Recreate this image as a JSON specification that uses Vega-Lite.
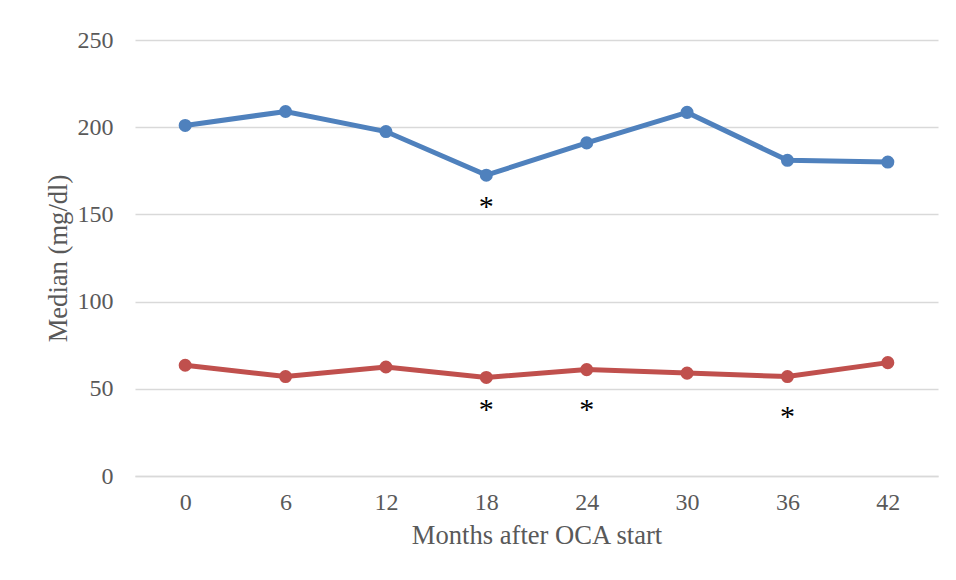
{
  "$schema": "https://vega.github.io/schema/vega-lite/v6.json",
  "autosize": {"type": "none"},
  "width": 803,
  "height": 436,
  "padding": {"left": 135, "top": 40, "right": 18, "bottom": 104},
  "background": "white",
  "datasets": {
    "series": [
      {"month": "0", "series": "Series 1", "value": 201},
      {"month": "6", "series": "Series 1", "value": 209},
      {"month": "12", "series": "Series 1", "value": 197.5},
      {"month": "18", "series": "Series 1", "value": 172.5},
      {"month": "24", "series": "Series 1", "value": 191},
      {"month": "30", "series": "Series 1", "value": 208.5},
      {"month": "36", "series": "Series 1", "value": 181},
      {"month": "42", "series": "Series 1", "value": 180},
      {"month": "0", "series": "Series 2", "value": 63.5},
      {"month": "6", "series": "Series 2", "value": 57},
      {"month": "12", "series": "Series 2", "value": 62.5},
      {"month": "18", "series": "Series 2", "value": 56.5},
      {"month": "24", "series": "Series 2", "value": 61},
      {"month": "30", "series": "Series 2", "value": 59},
      {"month": "36", "series": "Series 2", "value": 57},
      {"month": "42", "series": "Series 2", "value": 65}
    ],
    "marks": [
      {"month": "18", "value": 157, "label": "*"},
      {"month": "18", "value": 40.5, "label": "*"},
      {"month": "24", "value": 40.5, "label": "*"},
      {"month": "36", "value": 36.5, "label": "*"}
    ]
  },
  "layer": [
    {
      "data": {"name": "series"},
      "mark": {"type": "line", "strokeWidth": 5, "point": {"filled": true, "size": 170, "opacity": 1}},
      "encoding": {
        "x": {
          "field": "month", "type": "ordinal", "sort": ["0", "6", "12", "18", "24", "30", "36", "42"],
          "scale": {"type": "point", "padding": 0.5},
          "axis": {
            "title": "Months after OCA start", "titleFont": "Liberation Serif", "titleFontSize": 26.6,
            "titleFontWeight": "normal", "titleColor": "#595959", "titlePadding": 8,
            "labelFont": "Liberation Serif", "labelFontSize": 24, "labelColor": "#595959",
            "labelAngle": 0, "labelPadding": 14, "ticks": false, "domainColor": "#d9d9d9", "domainWidth": 1.5
          }
        },
        "y": {
          "field": "value", "type": "quantitative", "scale": {"domain": [0, 250], "nice": false},
          "axis": {
            "title": "Median (mg/dl)", "titleFont": "Liberation Serif", "titleFontSize": 26.6,
            "titleFontWeight": "normal", "titleColor": "#595959", "titlePadding": 5,
            "labelFont": "Liberation Serif", "labelFontSize": 24, "labelColor": "#595959",
            "labelPadding": 22, "ticks": false, "domain": false, "values": [0, 50, 100, 150, 200, 250],
            "gridColor": "#d9d9d9", "gridWidth": 1.5
          }
        },
        "color": {
          "field": "series", "type": "nominal",
          "scale": {"domain": ["Series 1", "Series 2"], "range": ["#4f81bd", "#c0504d"]},
          "legend": null
        }
      }
    },
    {
      "data": {"name": "marks"},
      "mark": {"type": "text", "font": "Liberation Serif", "fontSize": 30, "color": "black", "baseline": "middle", "dy": 5},
      "encoding": {
        "x": {"field": "month", "type": "ordinal", "sort": ["0", "6", "12", "18", "24", "30", "36", "42"]},
        "y": {"field": "value", "type": "quantitative"},
        "text": {"field": "label"}
      }
    }
  ],
  "config": {"view": {"stroke": null}}
}
